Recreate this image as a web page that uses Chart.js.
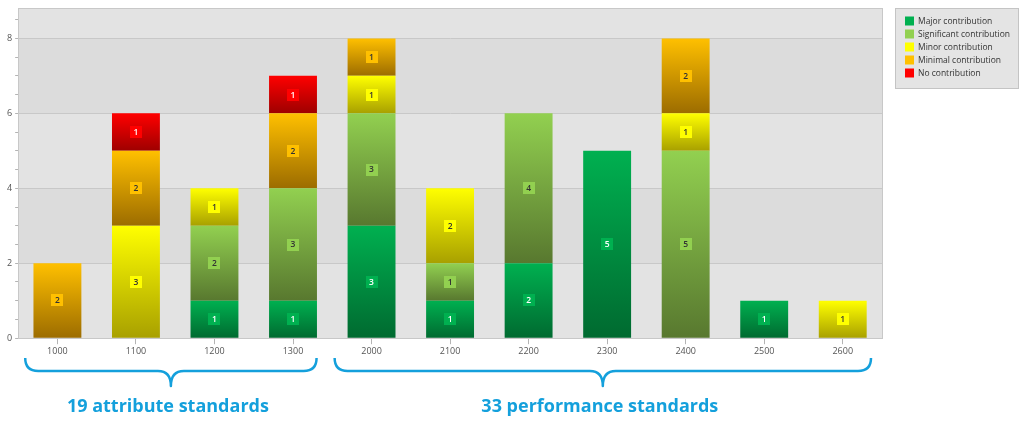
<!DOCTYPE html>
<html>
<head>
<meta charset="utf-8">
<script src="https://cdn.jsdelivr.net/npm/chart.js@4.4.1/dist/chart.umd.min.js"></script>
<style>
  html, body { margin: 0; padding: 0; background: #fff; }
  #wrap { width: 1024px; height: 423px; }
</style>
</head>
<body>
<div id="wrap"><canvas id="standardsChart"></canvas></div>
<script>
// chart data
const categories = ['1000', '1100', '1200', '1300', '2000', '2100', '2200', '2300', '2400', '2500', '2600'];
const majorValues = [0, 0, 1, 1, 3, 1, 2, 5, 0, 1, 0];
const significantValues = [0, 0, 2, 3, 3, 1, 4, 0, 5, 0, 0];
const minorValues = [0, 3, 1, 0, 1, 2, 0, 0, 1, 0, 1];
const minimalValues = [2, 2, 0, 2, 1, 0, 0, 0, 2, 0, 0];
const noValues = [0, 1, 0, 1, 0, 0, 0, 0, 0, 0, 0];
const seriesNames = ['Major contribution', 'Significant contribution', 'Minor contribution', 'Minimal contribution', 'No contribution'];
const yTickLabels = [0, 2, 4, 6, 8];
const groupLabels = ['19 attribute standards', '33 performance standards'];
const groupRanges = [[0, 3], [4, 10]];

const topColors = ['#00b050', '#92d050', '#ffff00', '#ffc000', '#ff0000'];
const bottomColors = ['#006a30', '#58782f', '#a8a000', '#9c6c00', '#9e0000'];
const labelTextColors = ['#ffffff', '#333333', '#333333', '#333333', '#ffffff'];
const allValues = [majorValues, significantValues, minorValues, minimalValues, noValues];

const FONT = 'Open Sans';

function segmentGradient(ctx) {
  const chart = ctx.chart;
  const ds = ctx.datasetIndex;
  const i = ctx.dataIndex;
  const y = chart.scales.y;
  if (!chart.chartArea || !y || i === undefined) return topColors[ds];
  let base = 0;
  for (let k = 0; k < ds; k++) base += allValues[k][i];
  const top = y.getPixelForValue(base + allValues[ds][i]);
  const bottom = y.getPixelForValue(base);
  if (!isFinite(top) || !isFinite(bottom) || top === bottom) return topColors[ds];
  const g = chart.ctx.createLinearGradient(0, top, 0, bottom);
  g.addColorStop(0, topColors[ds]);
  g.addColorStop(1, bottomColors[ds]);
  return g;
}

// alternating bands behind the bars
const bandsPlugin = {
  id: 'bands',
  beforeDraw(chart) {
    const { ctx, chartArea: a, scales: { y } } = chart;
    ctx.save();
    ctx.fillStyle = '#e3e3e3';
    ctx.fillRect(a.left, a.top, a.right - a.left, a.bottom - a.top);
    ctx.fillStyle = '#dcdcdc';
    [[2, 4], [6, 8]].forEach(([lo, hi]) => {
      const t = y.getPixelForValue(hi);
      const b = y.getPixelForValue(lo);
      ctx.fillRect(a.left, t, a.right - a.left, b - t);
    });
    ctx.restore();
  },
  afterDraw(chart) {
    const { ctx, chartArea: a } = chart;
    ctx.save();
    ctx.strokeStyle = '#c8c8c8';
    ctx.lineWidth = 1;
    ctx.strokeRect(Math.round(a.left) + 0.5, Math.round(a.top) + 0.5, Math.round(a.right - a.left), Math.round(a.bottom - a.top));
    ctx.restore();
  }
};

// small value boxes in the middle of each segment
const valueBoxPlugin = {
  id: 'valueBoxes',
  afterDatasetsDraw(chart) {
    const ctx = chart.ctx;
    ctx.save();
    ctx.font = '600 8.5px "' + FONT + '"';
    ctx.textAlign = 'center';
    ctx.textBaseline = 'middle';
    chart.data.datasets.forEach((ds, di) => {
      const meta = chart.getDatasetMeta(di);
      meta.data.forEach((bar, i) => {
        const v = ds.data[i];
        if (!v) return;
        const cy = (bar.y + bar.base) / 2;
        const txt = String(v);
        const w = Math.max(12, ctx.measureText(txt).width + 6);
        const h = 12;
        ctx.fillStyle = topColors[di];
        ctx.fillRect(Math.round(bar.x - w / 2), Math.round(cy - h / 2), w, h);
        ctx.fillStyle = labelTextColors[di];
        ctx.fillText(txt, bar.x, cy + 0.5);
      });
    });
    ctx.restore();
  }
};

// legend box at the right
const legendBoxPlugin = {
  id: 'legendBox',
  afterDraw(chart) {
    const ctx = chart.ctx;
    const x0 = 895, y0 = 8, w = 123, h = 80;
    ctx.save();
    ctx.fillStyle = '#e4e4e4';
    ctx.fillRect(x0, y0, w, h);
    ctx.strokeStyle = '#c4c4c4';
    ctx.lineWidth = 1;
    ctx.strokeRect(x0 + 0.5, y0 + 0.5, w, h);
    ctx.font = '8.5px "' + FONT + '"';
    ctx.textBaseline = 'middle';
    ctx.textAlign = 'left';
    seriesNames.forEach((name, k) => {
      const cy = 21 + k * 13;
      ctx.fillStyle = topColors[k];
      ctx.fillRect(905, cy - 4.5, 9, 9);
      ctx.fillStyle = '#333333';
      ctx.fillText(name, 918, cy + 0.5);
    });
    ctx.restore();
  }
};

// curly braces and group captions below the axis
const groupPlugin = {
  id: 'groups',
  afterDraw(chart) {
    const ctx = chart.ctx;
    const x = chart.scales.x;
    const step = x.getPixelForValue(1) - x.getPixelForValue(0);
    const yTop = 358, yMid = 371, yTip = 386, r = 13;
    const edges = [[0.41, 0.3], [0.47, 0.36]];
    ctx.save();
    ctx.strokeStyle = '#14a0dc';
    ctx.lineWidth = 2.5;
    ctx.lineJoin = 'round';
    groupRanges.forEach(([a, b], gi) => {
      const x0 = x.getPixelForValue(a) - step * edges[gi][0];
      const x1 = x.getPixelForValue(b) + step * edges[gi][1];
      const xm = (x0 + x1) / 2;
      ctx.beginPath();
      ctx.moveTo(x0, yTop);
      ctx.quadraticCurveTo(x0, yMid, x0 + r, yMid);
      ctx.lineTo(xm - r, yMid);
      ctx.quadraticCurveTo(xm, yMid, xm, yTip);
      ctx.quadraticCurveTo(xm, yMid, xm + r, yMid);
      ctx.lineTo(x1 - r, yMid);
      ctx.quadraticCurveTo(x1, yMid, x1, yTop);
      ctx.stroke();
      ctx.fillStyle = '#14a0dc';
      ctx.font = 'bold 18px "' + FONT + '"';
      ctx.textAlign = 'center';
      ctx.textBaseline = 'middle';
      ctx.fillText(groupLabels[gi], xm - 3, 407);
    });
    ctx.restore();
  }
};

const datasets = seriesNames.map((name, k) => ({
  label: name,
  data: allValues[k],
  backgroundColor: segmentGradient,
  borderWidth: 0,
  barPercentage: 0.61,
  categoryPercentage: 1
}));

new Chart(document.querySelector('#standardsChart'), {
  type: 'bar',
  data: { labels: categories, datasets: datasets },
  plugins: [bandsPlugin, valueBoxPlugin, legendBoxPlugin, groupPlugin],
  options: {
    responsive: true,
    maintainAspectRatio: false,
    animation: false,
    layout: { padding: { left: 4, top: 8, right: 142, bottom: 64 } },
    plugins: {
      legend: { display: false },
      tooltip: { enabled: false }
    },
    scales: {
      x: {
        stacked: true,
        grid: { offset: false, drawOnChartArea: false, tickLength: 6, tickColor: '#b4b4b4' },
        border: { color: '#c8c8c8' },
        ticks: { color: '#555555', font: { family: FONT, size: 9 }, padding: 2 }
      },
      y: {
        stacked: true,
        min: 0,
        max: 8.8,
        grid: {
          color: ctx => (ctx.tick && yTickLabels.includes(ctx.tick.value) ? '#c8c8c8' : 'rgba(0,0,0,0)'),
          tickColor: '#b4b4b4',
          tickLength: 3
        },
        border: { color: '#c8c8c8' },
        ticks: {
          stepSize: 0.5,
          includeBounds: false,
          autoSkip: false,
          padding: 3,
          color: '#555555',
          font: { family: FONT, size: 9 },
          callback: v => (yTickLabels.includes(v) ? v : '')
        }
      }
    }
  }
});
</script>
</body>
</html>
